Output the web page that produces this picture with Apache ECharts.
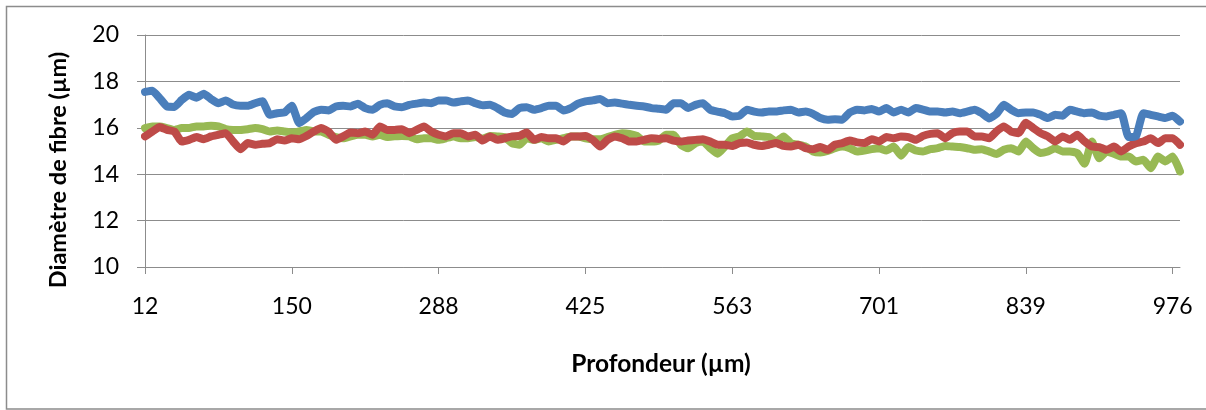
<!DOCTYPE html>
<html>
<head>
<meta charset="utf-8">
<script src="https://cdn.jsdelivr.net/npm/echarts@6/dist/echarts.min.js"></script>
<style>
html,body{margin:0;padding:0;background:#fff;}
#chart{width:1206px;height:410px;}
</style>
</head>
<body>
<div id="chart"></div>
<script>
// Tick labels shown every 20 samples on the depth axis (µm)
const tickLabels = ['12', '150', '288', '425', '563', '701', '839', '976'];
const samplesPerTick = 20;
const extraSamples = 1; // one sample beyond the last tick

// Fibre diameter (µm) — blue series
const blueSeries = [
  17.55, 17.6, 17.28, 16.92, 16.9, 17.2, 17.42, 17.3, 17.47, 17.24, 17.06, 17.18, 17.0, 16.95, 16.95, 17.06, 17.14, 16.56, 16.63, 16.66, 16.95, 16.2, 16.42, 16.68,
  16.78, 16.75, 16.92, 16.95, 16.92, 17.04, 16.85, 16.78, 16.99, 17.06, 16.92, 16.89, 16.99, 17.04, 17.09, 17.06, 17.18, 17.18, 17.09, 17.14, 17.18, 17.06, 16.97,
  16.99, 16.85, 16.66, 16.6, 16.85, 16.89, 16.78, 16.85, 16.95, 16.95, 16.75, 16.85, 17.04, 17.14, 17.18, 17.24, 17.06, 17.09, 17.04, 16.99, 16.95, 16.92, 16.85, 16.82,
  16.78, 17.06, 17.06, 16.85, 16.99, 17.06, 16.78, 16.7, 16.63, 16.49, 16.52, 16.78, 16.7, 16.66, 16.7, 16.7, 16.75, 16.78, 16.66, 16.7, 16.6, 16.42, 16.35,
  16.37, 16.35, 16.66, 16.78, 16.75, 16.81, 16.7, 16.85, 16.66, 16.78, 16.66, 16.85, 16.78, 16.7, 16.7, 16.66, 16.7, 16.63, 16.7, 16.78, 16.63, 16.4, 16.6,
  16.99, 16.78, 16.63, 16.66, 16.66, 16.56, 16.42, 16.56, 16.52, 16.78, 16.7, 16.63, 16.66, 16.52, 16.49, 16.56, 16.63, 15.6, 15.63, 16.63, 16.56, 16.49, 16.42, 16.52, 16.27
];

// Fibre diameter (µm) — red series
const redSeries = [
  15.63, 15.84, 16.03, 15.91, 15.84, 15.41, 15.48, 15.6, 15.51, 15.63, 15.7, 15.77, 15.41, 15.08, 15.34, 15.27, 15.31, 15.34, 15.51, 15.45, 15.55, 15.51, 15.65, 15.84,
  15.99, 15.84, 15.48, 15.63, 15.8, 15.77, 15.84, 15.7, 16.06, 15.91, 15.91, 15.94, 15.77, 15.91, 16.06, 15.84, 15.7, 15.63, 15.77, 15.77, 15.63, 15.7, 15.45,
  15.63, 15.48, 15.55, 15.63, 15.65, 15.8, 15.48, 15.6, 15.55, 15.55, 15.41, 15.63, 15.63, 15.65, 15.48, 15.19, 15.48, 15.63, 15.55, 15.41, 15.41, 15.48, 15.55, 15.52,
  15.55, 15.45, 15.41, 15.45, 15.48, 15.51, 15.41, 15.27, 15.27, 15.22, 15.34, 15.37, 15.27, 15.22, 15.27, 15.34, 15.22, 15.19, 15.27, 15.12, 15.08, 15.17, 15.05,
  15.27, 15.34, 15.45, 15.37, 15.34, 15.51, 15.41, 15.6, 15.55, 15.63, 15.6, 15.48, 15.65, 15.74, 15.77, 15.55, 15.77, 15.84, 15.84, 15.63, 15.63, 15.55, 15.85,
  16.06, 15.84, 15.77, 16.22, 15.99, 15.77, 15.63, 15.41, 15.63, 15.48, 15.7, 15.41, 15.19, 15.17, 15.05, 15.19, 14.98, 15.19, 15.34, 15.41, 15.55, 15.34, 15.55, 15.55, 15.27
];

// Fibre diameter (µm) — green series
const greenSeries = [
  15.99, 16.06, 16.06, 15.99, 15.91, 15.99, 15.99, 16.06, 16.06, 16.09, 16.06, 15.94, 15.91, 15.91, 15.94, 15.99, 15.94, 15.84, 15.88, 15.84, 15.8, 15.84, 15.91, 15.84,
  15.84, 15.7, 15.6, 15.55, 15.63, 15.7, 15.7, 15.63, 15.7, 15.6, 15.63, 15.65, 15.63, 15.51, 15.55, 15.55, 15.48, 15.55, 15.63, 15.55, 15.55, 15.6, 15.53,
  15.65, 15.63, 15.6, 15.34, 15.27, 15.55, 15.48, 15.55, 15.41, 15.48, 15.55, 15.63, 15.63, 15.55, 15.51, 15.51, 15.6, 15.7, 15.77, 15.74, 15.65, 15.41, 15.41, 15.45,
  15.7, 15.7, 15.27, 15.12, 15.34, 15.41, 15.12, 14.88, 15.19, 15.55, 15.63, 15.84, 15.65, 15.63, 15.6, 15.41, 15.63, 15.34, 15.27, 15.19, 14.98, 14.94, 15.0,
  15.12, 15.19, 15.12, 14.98, 15.02, 15.08, 15.12, 15.02, 15.19, 14.8, 15.17, 15.02, 14.98, 15.08, 15.12, 15.22, 15.19, 15.17, 15.12, 15.05, 15.08, 14.98, 14.87,
  15.05, 15.12, 14.98, 15.41, 15.12, 14.91, 14.98, 15.12, 14.98, 14.98, 14.91, 14.45, 15.41, 14.69, 14.98, 14.88, 14.76, 14.76, 14.55, 14.62, 14.26, 14.76, 14.55, 14.76, 14.12
];

// Build the depth categories: labelled ticks every 20 samples, depth values in between
const categories = [];
const nSamples = (tickLabels.length - 1) * samplesPerTick + 1 + extraSamples;
for (let i = 0; i < nSamples; i++) {
  const t = Math.min(Math.floor(i / samplesPerTick), tickLabels.length - 2);
  const a = parseFloat(tickLabels[t]), b = parseFloat(tickLabels[t + 1]);
  if (i % samplesPerTick === 0 && i / samplesPerTick < tickLabels.length) {
    categories.push(tickLabels[i / samplesPerTick]);
  } else {
    categories.push(String(Math.round(a + (b - a) * (i - t * samplesPerTick) / samplesPerTick)));
  }
}

const FONT = 'Lato, "Open Sans", sans-serif';
const AXIS_GRAY = '#8c8c8c';

const chart = echarts.init(document.getElementById('chart'), null, {renderer: 'canvas'});
chart.setOption({
  animation: false,
  backgroundColor: '#ffffff',
  grid: {left: 145, top: 35, width: 1035, height: 232, containLabel: false},
  xAxis: {
    type: 'category',
    data: categories,
    boundaryGap: false,
    axisLine: {lineStyle: {color: AXIS_GRAY, width: 1}},
    axisTick: {show: true, interval: samplesPerTick - 1, length: 7, lineStyle: {color: AXIS_GRAY}},
    axisLabel: {interval: samplesPerTick - 1, margin: 28, color: '#000', fontFamily: FONT, fontSize: 23},
    splitLine: {show: false}
  },
  yAxis: {
    type: 'value',
    min: 10, max: 20, interval: 2,
    axisLine: {show: true, lineStyle: {color: AXIS_GRAY, width: 1}},
    axisTick: {show: true, length: 8, lineStyle: {color: AXIS_GRAY}},
    axisLabel: {margin: 26, color: '#000', fontFamily: FONT, fontSize: 23},
    splitLine: {show: true, lineStyle: {color: AXIS_GRAY, width: 1}}
  },
  graphic: [
    {type: 'rect', shape: {x: 6.5, y: 6.5, width: 1220, height: 402.5}, style: {fill: 'none', stroke: AXIS_GRAY, lineWidth: 1.5}, silent: true},
    {type: 'text', x: 58, y: 170, rotation: Math.PI / 2,
     style: {text: 'Diamètre de fibre (µm)', fontFamily: FONT, fontWeight: 'bold', fontSize: 23.5, fill: '#000', align: 'center', verticalAlign: 'middle'}},
    {type: 'text', x: 661, y: 364,
     style: {text: 'Profondeur (µm)', fontFamily: FONT, fontWeight: 'bold', fontSize: 24.5, fill: '#000', align: 'center', verticalAlign: 'middle'}}
  ],
  series: [
    {name: 'Série 1', type: 'line', data: blueSeries, showSymbol: false, smooth: 0.15, lineStyle: {color: '#4A7EBB', width: 8, join: 'round', cap: 'round'}, itemStyle: {color: '#4A7EBB'}, z: 3},
    {name: 'Série 3', type: 'line', data: greenSeries, showSymbol: false, smooth: 0.15, lineStyle: {color: '#98B954', width: 8, join: 'round', cap: 'round'}, itemStyle: {color: '#98B954'}, z: 2},
    {name: 'Série 2', type: 'line', data: redSeries, showSymbol: false, smooth: 0.15, lineStyle: {color: '#BE4B48', width: 8, join: 'round', cap: 'round'}, itemStyle: {color: '#BE4B48'}, z: 2}
  ]
});
</script>
</body>
</html>
